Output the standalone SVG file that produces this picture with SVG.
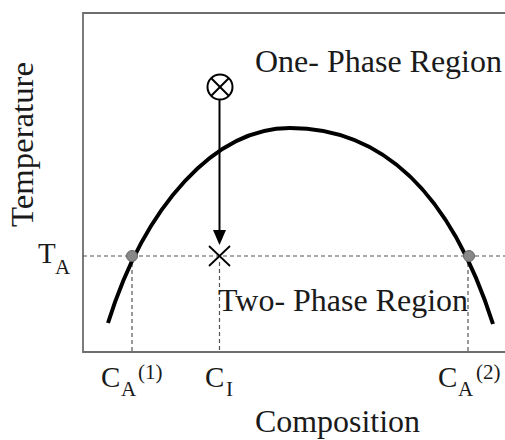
<svg xmlns="http://www.w3.org/2000/svg" width="505" height="440" viewBox="0 0 505 440">
<defs>
<style>
.t{font-family:"Liberation Serif","DejaVu Serif",serif;fill:#1a1a1a}
.big{font-size:31px}
.lab{font-size:29px}
.sub{font-size:21px}
.axis{stroke:#6e6e6e;stroke-width:1.8;fill:none}
.dash{stroke:#555;stroke-width:1.2;stroke-dasharray:4 3;fill:none}
.curve{stroke:#000;stroke-width:4;fill:none;stroke-linecap:butt}
.dot{fill:#888;stroke:#666;stroke-width:1}
</style>
</defs>
<rect width="505" height="440" fill="#fff"/>
<g id="axes">
<path class="axis" d="M505 13 H83 V352 H505"/>
</g>
<g id="guides">
<line class="dash" x1="83" y1="256" x2="505" y2="256"/>
<line class="dash" x1="132" y1="256" x2="132" y2="352"/>
<line class="dash" x1="219.5" y1="262" x2="219.5" y2="352"/>
<line class="dash" x1="468" y1="256" x2="468" y2="352"/>
</g>
<g id="binodal">
<path class="curve" d="M108 323 C145 205 215 128 290 128 C380 128 450 190 493 324"/>
</g>
<g id="connectors">
<line x1="219.5" y1="100" x2="219.5" y2="232" stroke="#000" stroke-width="2"/>
<polygon points="213,230 226,230 219.5,245" fill="#000"/>
</g>
<g id="start-point">
<circle cx="220" cy="87" r="12.5" fill="none" stroke="#000" stroke-width="2"/>
<line x1="211.5" y1="78.5" x2="228.5" y2="95.5" stroke="#000" stroke-width="2"/>
<line x1="228.5" y1="78.5" x2="211.5" y2="95.5" stroke="#000" stroke-width="2"/>
</g>
<g id="quench-point">
<line x1="209" y1="246" x2="230" y2="266" stroke="#000" stroke-width="1.8"/>
<line x1="230" y1="246" x2="209" y2="266" stroke="#000" stroke-width="1.8"/>
</g>
<g id="coexistence-points">
<circle class="dot" cx="132" cy="256" r="5.5"/>
<circle class="dot" cx="469" cy="256" r="5.5"/>
</g>
<g id="labels">
<text class="t big" x="255" y="72" textLength="247" lengthAdjust="spacingAndGlyphs">One- Phase Region</text>
<text class="t big" x="218" y="311" textLength="250" lengthAdjust="spacingAndGlyphs">Two- Phase Region</text>
<text class="t big" transform="translate(33 144.5) rotate(-90)" text-anchor="middle" textLength="165" lengthAdjust="spacingAndGlyphs">Temperature</text>
<text class="t big" x="255" y="432" textLength="165" lengthAdjust="spacingAndGlyphs">Composition</text>
<text class="t lab" x="38" y="263">T</text>
<text class="t sub" x="55" y="274">A</text>
<text class="t lab" x="101" y="387">C</text>
<text class="t sub" x="121" y="396">A</text>
<text class="t sub" x="138" y="379">(1)</text>
<text class="t lab" x="205" y="387">C</text>
<text class="t sub" x="226" y="396">I</text>
<text class="t lab" x="438" y="387">C</text>
<text class="t sub" x="458" y="396">A</text>
<text class="t sub" x="476" y="379">(2)</text>
</g>
</svg>
